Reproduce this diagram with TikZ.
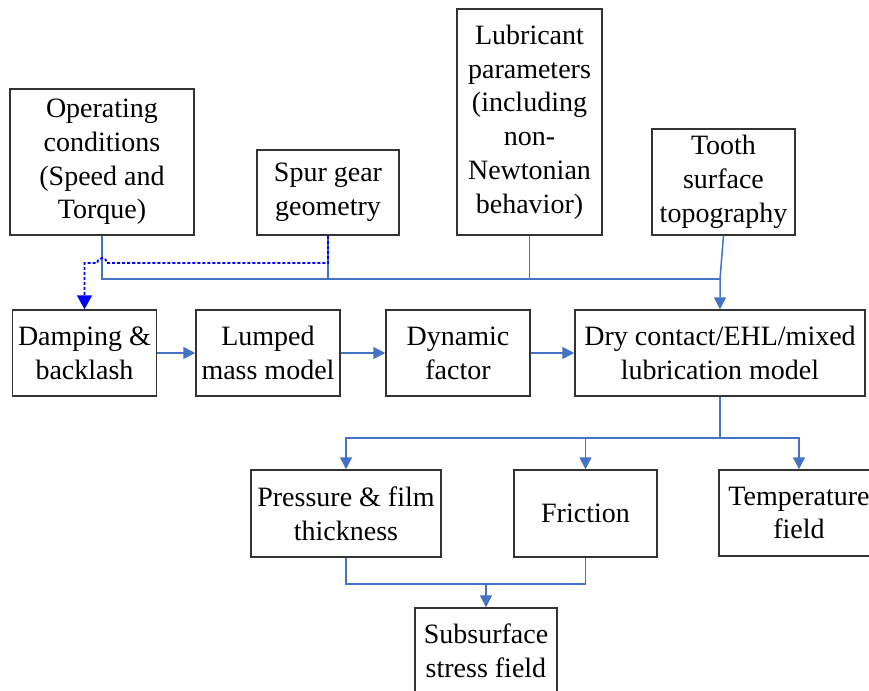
\documentclass[tikz,border=0pt]{standalone}
\usepackage{fontspec}
\setmainfont{Liberation Serif}
\usetikzlibrary{arrows.meta}
\usetikzlibrary{positioning}

\definecolor{linkblue}{RGB}{68,114,196}
\definecolor{dashblue}{RGB}{0,0,255}

\begin{document}
\begin{tikzpicture}[x=0.5pt,y=-0.5pt,
    block/.style={draw=black!80,line width=0.75pt,align=center,inner sep=1pt,
      font=\fontsize{14}{16.9}\selectfont},
    link/.style={draw=linkblue,line width=0.75pt},
    linkarrow/.style={link,-{Triangle[length=6pt,width=6pt]}},
    backlink/.style={draw=dashblue,line width=0.9pt,dash pattern=on 1.5pt off 1pt,
      -{Triangle[length=7pt,width=7.5pt]}}]
    \clip (0,0) rectangle (869,691);
    \fill [white] (0,0) rectangle (869,691);

    % inputs
    \node [block,minimum width=92pt,minimum height=73pt] (ops) at (102,162) {Operating\\conditions\\(Speed and\\Torque)};
    \node [block,minimum width=71pt,minimum height=42.5pt] (spur) at (328,192.5) {Spur gear\\geometry};
    \node [block,minimum width=72.5pt,minimum height=113pt] (lub) at (529.5,122) {Lubricant\\parameters\\(including\\non-\\Newtonian\\behavior)};
    \node [block,minimum width=71.5pt,minimum height=53pt] (tooth) at (723.5,182) {Tooth\\surface\\topography};

    % models
    \node [block,minimum width=72pt,minimum height=43pt] (damp) at (84.5,353) {Damping \&\\backlash};
    \node [block,minimum width=72pt,minimum height=43pt] (lump) at (268,353) {Lumped\\mass model};
    \node [block,minimum width=72pt,minimum height=43pt] (dyn) at (458,353) {Dynamic\\factor};
    \node [block,minimum width=145pt,minimum height=43pt] (dry) at (720,353) {Dry contact/EHL/mixed\\lubrication model};

    % results
    \node [block,minimum width=95pt,minimum height=43.5pt] (press) at (346,513.5) {Pressure \& film\\thickness};
    \node [block,minimum width=71.5pt,minimum height=43.5pt] (fric) at (585.5,513.5) {Friction};
    \node [block,minimum width=80pt,minimum height=43pt] (temp) at (799,513) {Temperature\\field};
    \node [block,minimum width=71pt,minimum height=43pt] (sub) at (486,651) {Subsurface\\stress field};

    \coordinate (bus) at (0,279);
    \coordinate (jump) at (0,263);
    \coordinate (split) at (0,438);
    \coordinate (merge) at (0,584);

    \draw [link] (ops.south) |- (dry.north |- bus);
    \draw [link] (spur.south) -- (spur.south |- bus);
    \draw [link] (lub.south) -- (lub.south |- bus);
    \draw [linkarrow] (tooth.south) -- (dry.north |- bus) -- (dry.north);

    \draw [backlink] (spur.south) -- (spur.south |- jump) -- ([xshift=2.5pt]ops.south |- jump)
      arc [start angle=0,end angle=-180,radius=5] -- (damp.north |- jump) -- (damp.north);

    \draw [linkarrow] (damp) -- (lump);
    \draw [linkarrow] (lump) -- (dyn);
    \draw [linkarrow] (dyn) -- (dry);

    \draw [link] (dry.south) -- (dry.south |- split);
    \draw [linkarrow] (dry.south |- split) -| (press.north);
    \draw [linkarrow] (dry.south |- split) -| (fric.north);
    \draw [linkarrow] (dry.south |- split) -| (temp.north);

    \draw [link] (press.south) |- (merge -| fric.south) -- (fric.south);
    \draw [linkarrow] (sub.north |- merge) -- (sub.north);
  \end{tikzpicture}
\end{document}
